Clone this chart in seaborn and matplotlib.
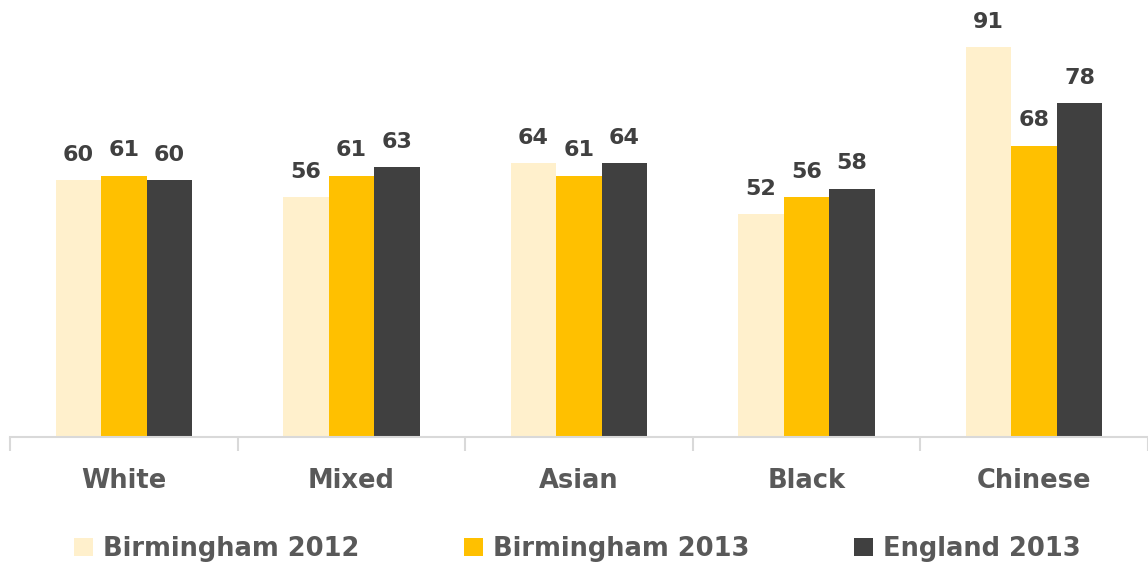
import pandas as pd
import seaborn as sns
import matplotlib.pyplot as plt
from matplotlib.ticker import FixedLocator

# 数据
categories = ['White', 'Mixed', 'Asian', 'Black', 'Chinese']
series = ['Birmingham 2012', 'Birmingham 2013', 'England 2013']
bham_2012 = [60, 56, 64, 52, 91]
bham_2013 = [61, 61, 61, 56, 68]
england_2013 = [60, 63, 64, 58, 78]

df = pd.DataFrame({
    'group': categories * 3,
    'series': [series[0]] * 5 + [series[1]] * 5 + [series[2]] * 5,
    'value': bham_2012 + bham_2013 + england_2013,
})

colors = ['#FFF0CC', '#FFC000', '#404040']

sns.set_style('white')
plt.rcParams['font.family'] = ['DejaVu Sans']

fig = plt.figure(figsize=(11.48, 5.65), dpi=100)
ax = fig.add_axes([10 / 1148, 128 / 565, 1 - 10 / 1148, 437 / 565])
sns.barplot(data=df, x='group', y='value', hue='series', palette=colors,
            width=0.6, saturation=1, linewidth=0, ax=ax, legend=True)

# 数值标签
for cont in ax.containers:
    ax.bar_label(cont, fmt='%d', padding=11, fontsize=16, fontweight='bold', color='#404040')

ax.set_ylim(0, 102)
ax.set_xlim(-0.5, 4.5)
ax.set_yticks([])
ax.set_xlabel('')
ax.set_ylabel('')
for s in ['top', 'right', 'left']:
    ax.spines[s].set_visible(False)
ax.spines['bottom'].set_color('#D9D9D9')
ax.spines['bottom'].set_linewidth(1.5)

ax.xaxis.set_minor_locator(FixedLocator([i - 0.5 for i in range(6)]))
ax.tick_params(axis='x', which='major', length=0, pad=22, labelsize=18.5, labelcolor='#595959')
ax.tick_params(axis='x', which='minor', length=10, width=1.5, color='#D9D9D9', bottom=True)
for t in ax.get_xticklabels():
    t.set_fontweight('bold')

handles, labels = ax.get_legend_handles_labels()
ax.legend_.remove()
fig.legend(handles, labels, loc='center', bbox_to_anchor=(0.503, 16 / 565), ncol=3,
           frameon=False, handlelength=0.75, handleheight=0.75, handletextpad=0.4,
           columnspacing=4.05, prop={'size': 18.5, 'weight': 'bold'}, labelcolor='#595959')

fig.savefig('out.png', dpi=100)
